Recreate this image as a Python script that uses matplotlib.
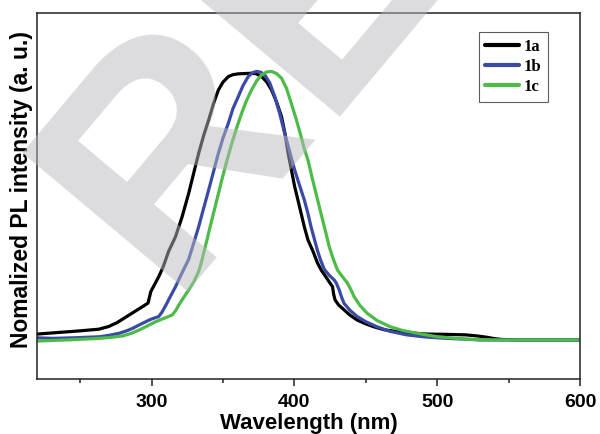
import matplotlib
matplotlib.use("Agg")
import matplotlib.pyplot as plt
from matplotlib.ticker import MultipleLocator, NullLocator

# ---- data ----
black_x = [220, 235, 250, 263, 270, 276, 282, 288, 294, 297.5, 299.5, 302, 305, 308, 312, 316.8,
           321.4, 326, 329.5, 333, 336.5, 340, 343.5, 346.8, 350, 353.8, 357, 360.7, 365, 368.8,
           373, 377, 380.5, 384, 387.5, 391, 393.5, 395.6, 398, 400.2, 402.5, 404.7, 407, 409.5,
           413, 416.3, 419, 422, 424.5, 426.7, 427.5, 428.5, 431, 434.8, 439, 444, 450, 455.6, 463,
           471.9, 482, 492.7, 505, 520, 528, 535, 540, 545, 560, 600]
black_y = [0.022, 0.028, 0.034, 0.040, 0.050, 0.065, 0.085, 0.105, 0.125, 0.137, 0.18, 0.205, 0.235,
           0.27, 0.33, 0.384, 0.458, 0.545, 0.62, 0.694, 0.76, 0.818, 0.88, 0.929, 0.958, 0.979,
           0.986, 0.989, 0.99, 0.991, 0.990, 0.979, 0.96, 0.929, 0.885, 0.830, 0.765, 0.694, 0.63,
           0.570, 0.52, 0.471, 0.42, 0.372, 0.33, 0.285, 0.258, 0.235, 0.215, 0.198, 0.17, 0.149,
           0.13, 0.112, 0.092, 0.074, 0.06, 0.049, 0.038, 0.031, 0.026, 0.022, 0.021, 0.019, 0.015,
           0.01, 0.005, 0.002, 0.0, 0.0]

blue_x = [220, 231, 245, 263.5, 270, 277.4, 282, 286.7, 291, 296, 300, 305, 307.5, 309.9, 313,
          316.8, 320, 323.7, 326, 329.5, 333, 336.5, 340, 343.5, 346.8, 350, 353.8, 357, 360.7, 364,
          367.7, 370.5, 373.5, 376.5, 379.3, 382.8, 386.3, 389.8, 393.2, 396.7, 400.2, 403.6, 407,
          409.5, 411.7, 414, 416.3, 418.5, 421, 424.5, 427.9, 429.5, 431.4, 433, 434.8, 439, 444,
          450, 457.9, 467, 478.7, 492, 506.5, 520, 530, 600]
blue_y = [0.008, 0.006, 0.008, 0.012, 0.017, 0.025, 0.033, 0.043, 0.055, 0.068, 0.078, 0.087, 0.105,
          0.128, 0.16, 0.198, 0.235, 0.275, 0.30, 0.36, 0.421, 0.49, 0.558, 0.628, 0.694, 0.75,
          0.806, 0.86, 0.904, 0.945, 0.979, 0.993, 0.998, 0.995, 0.985, 0.955, 0.904, 0.84, 0.768,
          0.70, 0.632, 0.575, 0.520, 0.47, 0.42, 0.375, 0.33, 0.295, 0.262, 0.24, 0.223, 0.21,
          0.186, 0.16, 0.136, 0.11, 0.087, 0.068, 0.049, 0.032, 0.019, 0.011, 0.006, 0.003, 0.0, 0.0]

green_x = [220, 240, 263.5, 272, 279.7, 286, 291.3, 297, 302.9, 308.5, 314.5, 317, 319.1, 322.5,
           326, 329.5, 333, 335.3, 338.7, 342.2, 345.7, 349.2, 352.7, 356.2, 359.7, 363.1, 366.5,
           370, 373.5, 377, 380.5, 384, 387.5, 391, 394.5, 397.8, 401.3, 404.7, 407, 409.5, 412.8,
           415.7, 418.6, 421.5, 424.4, 427.3, 430.2, 433.7, 437.2, 439.5, 441.8, 446, 451, 458,
           467.2, 476, 486, 500, 520, 540, 600]
green_y = [-0.004, 0.000, 0.006, 0.010, 0.015, 0.025, 0.037, 0.052, 0.068, 0.08, 0.093, 0.11, 0.130,
           0.158, 0.186, 0.215, 0.255, 0.297, 0.37, 0.446, 0.52, 0.595, 0.665, 0.731, 0.79, 0.843,
           0.89, 0.929, 0.962, 0.985, 0.996, 0.998, 0.99, 0.973, 0.935, 0.880, 0.82, 0.756, 0.71,
           0.669, 0.595, 0.533, 0.471, 0.41, 0.347, 0.30, 0.260, 0.235, 0.211, 0.188, 0.161, 0.128,
           0.099, 0.072, 0.049, 0.035, 0.025, 0.012, 0.003, 0.0, 0.0]

labels = ["1a", "1b", "1c"]
colors = ["#000000", "#3a4aa5", "#4dbb48"]
x_ticks = [300, 400, 500, 600]
watermark_letters = ["R", "E"]

plt.rcParams['font.family'] = ['Liberation Sans', 'DejaVu Sans']

fig = plt.figure(figsize=(6.0, 4.34), dpi=100)
ax = fig.add_axes([37.3/600, 1-379/434, (580-37.3)/600, (379-13.3)/434])

for xs, ys, c, lab in zip([black_x, blue_x, green_x], [black_y, blue_y, green_y], colors, labels):
    ax.plot(xs, ys, color=c, lw=2.3, label=lab, solid_joinstyle='round', solid_capstyle='round')

ax.set_xlim(220, 600)
ax.set_ylim(-0.145, 1.214)
ax.set_xticks(x_ticks)
ax.xaxis.set_minor_locator(MultipleLocator(50))
ax.yaxis.set_major_locator(NullLocator())
ax.tick_params(axis='x', which='major', direction='out', length=5, width=1.1, colors='#222222',
               labelsize=14, pad=6)
ax.tick_params(axis='x', which='minor', direction='out', length=2.6, width=1.1, colors='#222222')
for lab in ax.get_xticklabels():
    lab.set_fontweight('bold')
    lab.set_color('black')
for s in ax.spines.values():
    s.set_linewidth(1.1)
    s.set_color('#222222')

ax.set_xlabel("Wavelength (nm)", fontsize=16, fontweight='bold', labelpad=1)
ax.set_ylabel("Nomalized PL intensity (a. u.)", fontsize=16.5, fontweight='bold')
ax.yaxis.set_label_coords(-0.008, 0.518)

leg = ax.legend(loc='upper right', bbox_to_anchor=(0.941, 0.949), frameon=True, fancybox=False,
                prop={'family': 'Liberation Serif', 'weight': 'bold', 'size': 12},
                handlelength=2.0, handletextpad=0.3, borderpad=0.4, labelspacing=0.25,
                borderaxespad=0)
leg.get_frame().set_edgecolor('#333333')
leg.get_frame().set_linewidth(0.8)
for h in leg.get_lines():
    h.set_linewidth(3)

# watermark (large grey letters drawn over the plot)
for letter, (px, py) in zip(watermark_letters, [(167, 292), (319, 117)]):
    fig.text(px/600, 1-py/434, letter, rotation=50, rotation_mode='anchor', ha='left',
             va='baseline', fontsize=225, fontweight='bold', color='#b9babe', alpha=0.5, zorder=10)

fig.savefig("out.png", dpi=100)
